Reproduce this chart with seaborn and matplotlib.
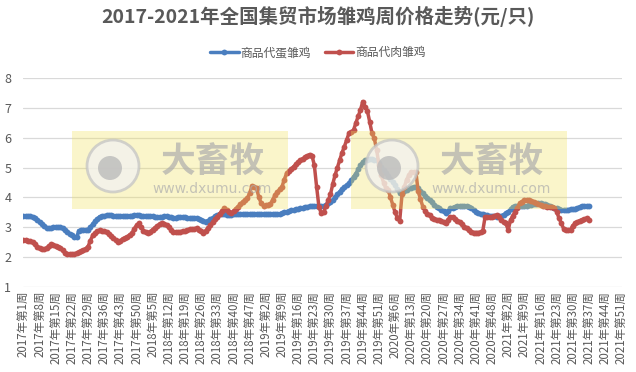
import numpy as np
import pandas as pd
import seaborn as sns
import matplotlib.pyplot as plt
from matplotlib.patches import Rectangle, Circle

# week categories 2017-2021 (2020 has 53 weeks)
years = [2017, 2018, 2019, 2020, 2021]
weeks_per_year = [52, 52, 52, 53, 52]
week_labels = [f"{y}年第{w}周" for y, n in zip(years, weeks_per_year) for w in range(1, n + 1)]

# 商品代蛋雏鸡 weekly price (元/只)
layer_chick = [
    3.38, 3.38, 3.37, 3.37, 3.35, 3.31, 3.25, 3.18, 3.10, 3.03,
    2.98, 2.97, 2.97, 2.99, 3.00, 3.00, 3.00, 2.97, 2.90, 2.84,
    2.78, 2.72, 2.68, 2.66, 2.88, 2.90, 2.90, 2.91, 2.92, 3.00,
    3.10, 3.20, 3.28, 3.35, 3.37, 3.38, 3.40, 3.41, 3.40, 3.39,
    3.38, 3.37, 3.36, 3.37, 3.37, 3.37, 3.38, 3.39, 3.40, 3.40,
    3.40, 3.39, 3.38, 3.38, 3.37, 3.38, 3.37, 3.35, 3.34, 3.33,
    3.33, 3.36, 3.38, 3.35, 3.33, 3.32, 3.32, 3.33, 3.33, 3.33,
    3.33, 3.32, 3.31, 3.31, 3.30, 3.30, 3.28, 3.24, 3.20, 3.19,
    3.22, 3.27, 3.31, 3.36, 3.41, 3.44, 3.44, 3.43, 3.42, 3.42,
    3.42, 3.43, 3.44, 3.45, 3.45, 3.45, 3.45, 3.45, 3.45, 3.45,
    3.45, 3.44, 3.44, 3.43, 3.43, 3.43, 3.43, 3.43, 3.43, 3.43,
    3.43, 3.44, 3.47, 3.50, 3.52, 3.54, 3.56, 3.58, 3.60, 3.62,
    3.63, 3.65, 3.67, 3.68, 3.70, 3.71, 3.72, 3.72, 3.71, 3.70,
    3.72, 3.75, 3.80, 3.86, 3.91, 4.00, 4.10, 4.19, 4.28, 4.35,
    4.41, 4.47, 4.58, 4.69, 4.80, 4.94, 5.08, 5.20, 5.24, 5.27,
    5.28, 5.28, 5.27, 5.26, 5.15, 5.03, 4.92, 4.81, 4.72, 4.62,
    4.53, 4.40, 4.27, 4.14, 4.15, 4.20, 4.25, 4.30, 4.33, 4.35,
    4.36, 4.30, 4.22, 4.14, 4.06, 3.98, 3.91, 3.83, 3.76, 3.69,
    3.63, 3.58, 3.53, 3.49, 3.55, 3.63, 3.66, 3.69, 3.70, 3.71,
    3.71, 3.70, 3.70, 3.69, 3.64, 3.58, 3.52, 3.48, 3.45, 3.43,
    3.41, 3.40, 3.38, 3.37, 3.36, 3.35, 3.36, 3.38, 3.42, 3.47,
    3.52, 3.60, 3.69, 3.70, 3.70, 3.71, 3.71, 3.71, 3.72, 3.74,
    3.76, 3.78, 3.79, 3.80, 3.80, 3.79, 3.77, 3.74, 3.72, 3.69,
    3.66, 3.63, 3.60, 3.58, 3.58, 3.58, 3.59, 3.60, 3.60, 3.62,
    3.65, 3.68, 3.71, 3.72, 3.72, 3.72,
]

# 商品代肉雏鸡 weekly price (元/只)
broiler_chick = [
    2.57, 2.56, 2.55, 2.53, 2.50, 2.42, 2.35, 2.30, 2.27, 2.26,
    2.30, 2.37, 2.42, 2.40, 2.37, 2.35, 2.30, 2.22, 2.13, 2.10,
    2.09, 2.09, 2.10, 2.12, 2.15, 2.20, 2.24, 2.28, 2.35, 2.55,
    2.72, 2.80, 2.88, 2.89, 2.87, 2.86, 2.85, 2.78, 2.70, 2.63,
    2.56, 2.51, 2.55, 2.60, 2.63, 2.68, 2.74, 2.79, 2.95, 3.06,
    3.13, 3.00, 2.88, 2.83, 2.79, 2.85, 2.92, 2.98, 3.05, 3.10,
    3.13, 3.10, 3.07, 3.00, 2.92, 2.85, 2.84, 2.84, 2.85, 2.86,
    2.88, 2.90, 2.93, 2.94, 2.95, 2.96, 2.92, 2.86, 2.82, 2.88,
    2.98, 3.07, 3.17, 3.26, 3.35, 3.45, 3.55, 3.63, 3.58, 3.50,
    3.46, 3.54, 3.62, 3.69, 3.77, 3.85, 3.92, 3.97, 4.15, 4.38,
    4.35, 4.30, 4.00, 3.80, 3.72, 3.74, 3.76, 3.78, 3.92, 4.08,
    4.18, 4.27, 4.36, 4.60, 4.81, 4.88, 4.96, 5.03, 5.11, 5.19,
    5.26, 5.30, 5.35, 5.40, 5.44, 5.40, 5.09, 4.36, 3.69, 3.46,
    3.50, 3.70, 3.90, 4.10, 4.45, 4.75, 5.00, 5.26, 5.50, 5.70,
    5.92, 6.15, 6.20, 6.26, 6.50, 6.72, 6.94, 7.22, 7.05, 6.90,
    6.54, 6.15, 5.98, 5.60, 5.10, 4.75, 4.50, 4.30, 4.25, 4.00,
    3.75, 3.50, 3.30, 3.22, 4.10, 4.35, 4.60, 4.75, 4.85, 4.86,
    4.86, 4.20, 3.95, 3.69, 3.55, 3.45, 3.41, 3.30, 3.27, 3.25,
    3.24, 3.20, 3.16, 3.13, 3.25, 3.35, 3.35, 3.28, 3.22, 3.18,
    3.10, 3.02, 2.96, 2.90, 2.85, 2.82, 2.82, 2.82, 2.83, 2.88,
    3.35, 3.35, 3.35, 3.35, 3.38, 3.41, 3.35, 3.24, 3.18, 3.13,
    2.90, 3.24, 3.38, 3.52, 3.66, 3.80, 3.86, 3.91, 3.91, 3.90,
    3.88, 3.86, 3.82, 3.78, 3.74, 3.72, 3.70, 3.69, 3.69, 3.69,
    3.65, 3.52, 3.30, 3.13, 2.95, 2.90, 2.90, 2.92, 3.05, 3.13,
    3.18, 3.22, 3.24, 3.27, 3.30, 3.25,
]

series_names = ["商品代蛋雏鸡", "商品代肉雏鸡"]
colors = ["#4A7EBF", "#C0504D"]
grey = "#595959"
cjk = ["Noto Sans CJK SC", "DejaVu Sans"]

df = pd.DataFrame({
    "week": list(range(len(layer_chick))) * 2,
    "price": layer_chick + broiler_chick,
    "series": [series_names[0]] * len(layer_chick) + [series_names[1]] * len(broiler_chick),
})

sns.set_theme(style="white")
plt.rcParams["font.family"] = cjk

fig = plt.figure(figsize=(6.36, 3.72), dpi=100)
ax = fig.add_axes([0.0354, 0.2293, 0.9426, 0.5602])

sns.lineplot(data=df, x="week", y="price", hue="series", hue_order=series_names,
             palette=colors, marker="o", markersize=4.2, markeredgewidth=0,
             linewidth=2.5, ax=ax, legend=True)

ax.set_xlim(-0.4, 259.3)
ax.set_ylim(1, 8)
ax.set_yticks(range(1, 9))
ax.yaxis.grid(True, color="#D9D9D9", linewidth=0.9)
ax.set_axisbelow(True)
for s in ax.spines.values():
    s.set_visible(False)

ticks = list(range(0, len(week_labels), 7))
ax.set_xticks(ticks)
ax.set_xticklabels([week_labels[i] for i in ticks], rotation=90, fontsize=8.3, color=grey)
ax.tick_params(axis="x", length=0, pad=3)
ax.tick_params(axis="y", length=0, pad=8, labelsize=9, labelcolor=grey)
ax.set_xlabel("")
ax.set_ylabel("")

handles, labels = ax.get_legend_handles_labels()
ax.legend(handles, labels, loc="center", bbox_to_anchor=(0.5, 0.858),
          bbox_transform=fig.transFigure, ncol=2, frameon=False,
          fontsize=8.5, labelcolor=grey, handlelength=2.4,
          handletextpad=0.15, columnspacing=1.2)

fig.text(0.5, 0.955, "2017-2021年全国集贸市场雏鸡周价格走势(元/只)",
         ha="center", va="center", fontsize=14, fontweight="bold", color=grey)

# watermark boxes drawn over the lines
for x0 in (72, 351):
    fig.patches.append(Rectangle((x0 / 636, 1 - 209 / 372), 216 / 636, 78 / 372,
                                 transform=fig.transFigure, facecolor="#F0E15A",
                                 alpha=0.32, edgecolor="none", zorder=5))
    cx = x0 + 41
    fig.patches.append(Circle((cx, 372 - 166), 26, transform=None,
                              facecolor="#F2F2F2", edgecolor="#C4C4C4",
                              linewidth=2, alpha=0.75, zorder=6))
    fig.patches.append(Circle((cx - 3, 372 - 168), 12, transform=None,
                              facecolor="#BBBBBB", edgecolor="none",
                              alpha=0.8, zorder=7))
    fig.text((x0 + 141) / 636, 1 - 161 / 372, "大畜牧", ha="center", va="center",
             fontsize=25, fontweight="bold", color="#ADADAD", alpha=0.7, zorder=8)
    fig.text((x0 + 140) / 636, 1 - 189 / 372, "www.dxumu.com", ha="center", va="center",
             fontsize=10, color="#ADADAD", alpha=0.7, zorder=8,
             family=["DejaVu Sans"])

fig.savefig("out.png", dpi=100)
plt.close(fig)
